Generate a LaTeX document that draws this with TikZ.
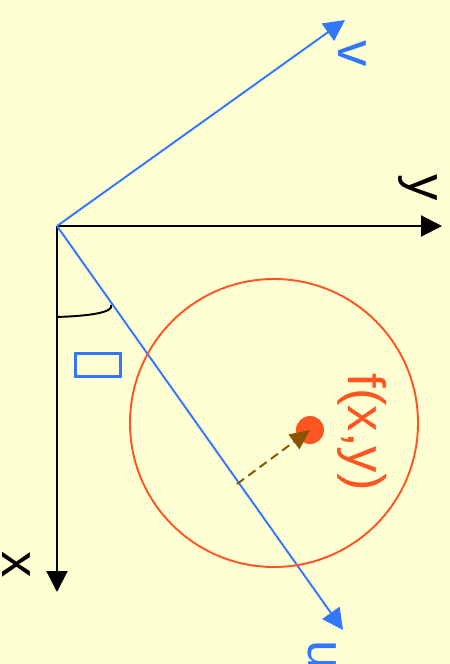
\documentclass[tikz,border=0pt]{standalone}
\usepackage{fontspec}
\setmainfont{Liberation Sans}
\usetikzlibrary{arrows.meta,calc,positioning}
\definecolor{paleyellow}{HTML}{FFFFD4}
\definecolor{vecblue}{HTML}{3377FF}
\definecolor{redorange}{HTML}{FF5522}
\definecolor{darkbrown}{HTML}{8B5200}

\begin{document}
\begin{tikzpicture}[x=0.02cm,y=-0.02cm,font=\fontsize{30}{36}\selectfont,
    axis/.style={line width=1.2pt,-{Triangle[length=0.42cm,width=0.42cm]}},
    vec/.style={vecblue,line width=1.1pt,-{Triangle[length=0.42cm,width=0.42cm]}}]
      % background and frame of the picture
      \fill[paleyellow] (0,0) rectangle (450,664);
      \clip (0,0) rectangle (450,664);
      % origin and end points
      \coordinate (O) at (57,226);
      \coordinate (ytip) at (442,226);
      \coordinate (xtip) at (57,592);
      \coordinate (vtip) at (345,20);
      \coordinate (utip) at (343,630);
      % the axes
      \draw[axis] (O) -- (ytip);
      \draw[axis] (O) -- (xtip);
      % the two directions
      \draw[vec] (O) -- (vtip);
      \draw[vec] (O) -- (utip);
      % the angle between x and u
      \draw[line width=1.1pt] (56,317) .. controls (92,316) and (114,312) .. (111,305);
      \node (theta) [draw=vecblue,line width=1.3pt,minimum width=0.9cm,minimum height=0.46cm,inner sep=0] at (98,365) {};
      % the neighbourhood
      \draw[redorange,line width=1.1pt] (274,423) circle [radius=144];
      \node (fxy) [circle,fill=redorange,minimum size=0.56cm,inner sep=0] at (310,430) {};
      \coordinate (start) at (237,484);
      \draw[darkbrown,line width=1.1pt,dash pattern=on 5pt off 3pt,-{Triangle[length=0.4cm,width=0.36cm]}] (start) -- (fxy.center);
      % labels
      \node (vlabel) [rotate=-90,vecblue] at (352,54) {v};
      \node (ylabel) [rotate=-90] at (418,188) {y};
      \node (xlabel) [rotate=-90] at (16,565) {x};
      \node (ulabel) [rotate=-90,vecblue] at (322,655) {u};
      \node (flabel) [rotate=-90,redorange] at (362,432) {f(x,y)};
    \end{tikzpicture}
\end{document}
